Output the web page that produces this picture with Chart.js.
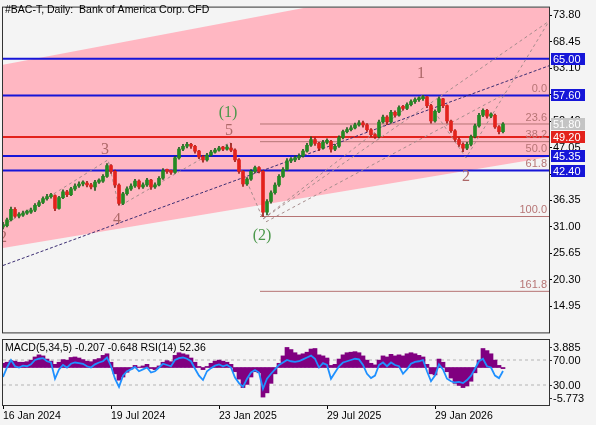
<!DOCTYPE html>
<html>
<head>
<meta charset="utf-8">
<script src="https://cdn.jsdelivr.net/npm/chart.js@4.4.1/dist/chart.umd.min.js"></script>
<style>
  body { margin: 0; background: #f4f4f4; }
  #wrap { position: relative; width: 596px; height: 425px; background: #f4f4f4; }
  canvas { position: absolute; left: 0; }
</style>
</head>
<body>
<div id="wrap">
  <canvas id="main" width="596" height="340" style="top:0"></canvas>
  <canvas id="sub" width="596" height="87" style="top:338px"></canvas>
</div>
<script>
// Price series, roughly one candle per week
const closes = [31.23, 32.41, 34.57, 33.19, 33.39, 33.78, 33.98, 34.37, 35.35, 35.94,
  36.72, 37.12, 37.31, 34.76, 36.92, 38.10, 37.51, 38.68, 39.27, 39.67,
  39.86, 39.47, 39.08, 40.06, 40.25, 41.23, 43.39, 42.22, 39.47, 35.74,
  37.70, 38.68, 39.27, 40.25, 39.08, 39.47, 40.45, 39.08, 39.47, 40.84,
  42.41, 42.22, 42.02, 44.96, 46.73, 47.32, 47.71, 47.32, 46.33, 45.16,
  44.57, 45.55, 46.14, 46.53, 46.92, 46.73, 46.92, 46.53, 44.57, 42.22,
  39.67, 40.65, 42.22, 43.00, 42.22, 33.98, 36.13, 37.90, 39.47, 41.23,
  42.61, 44.37, 44.57, 44.96, 45.35, 46.33, 47.51, 48.69, 47.90, 46.92,
  48.10, 48.30, 46.73, 47.32, 49.08, 50.26, 50.65, 51.04, 51.63, 52.02,
  51.63, 50.65, 49.67, 49.28, 52.22, 53.20, 52.22, 54.18, 53.59, 55.16,
  54.97, 55.75, 56.34, 56.73, 56.93, 57.32, 55.55, 52.42, 54.38, 56.93,
  55.55, 52.42, 50.45, 48.69, 47.71, 46.92, 47.71, 49.28, 51.44, 53.59,
  54.57, 53.40, 53.59, 51.24, 50.26, 51.80];
const highs = [31.9, 32.8, 35.0, 34.9, 33.9, 34.2, 34.4, 34.8, 35.7, 36.3,
  37.1, 37.6, 37.8, 37.5, 37.2, 38.5, 38.4, 39.0, 39.7, 40.1,
  40.3, 40.2, 39.8, 40.4, 40.7, 41.6, 43.8, 43.6, 42.5, 39.7,
  38.0, 39.1, 39.7, 40.6, 40.5, 39.9, 40.8, 40.6, 39.9, 41.2,
  42.8, 42.7, 42.5, 45.3, 47.1, 47.7, 48.1, 47.9, 47.5, 46.5,
  45.5, 45.9, 46.5, 46.9, 47.3, 47.3, 47.6, 47.9, 46.8, 44.8,
  42.4, 41.0, 42.6, 43.3, 43.2, 42.4, 36.5, 38.3, 39.9, 41.6,
  43.0, 44.8, 45.0, 45.4, 45.8, 46.7, 47.9, 49.2, 49.0, 48.1,
  48.5, 48.8, 48.5, 47.7, 49.4, 50.6, 51.1, 51.5, 52.0, 52.5,
  52.4, 51.9, 50.9, 49.9, 52.6, 53.6, 53.5, 54.6, 54.5, 55.5,
  55.6, 56.1, 56.7, 57.1, 57.3, 57.6, 57.4, 55.8, 54.7, 57.3,
  57.0, 55.7, 52.6, 50.7, 49.0, 48.0, 48.1, 49.6, 51.8, 54.0,
  54.9, 54.8, 54.1, 53.8, 51.5, 52.1];
const lows = [30.6, 31.0, 32.2, 32.9, 32.8, 33.1, 33.5, 33.7, 34.1, 35.1,
  35.7, 36.4, 36.8, 34.3, 34.6, 36.7, 37.1, 37.3, 38.4, 39.0,
  39.3, 39.1, 38.7, 38.4, 39.8, 40.0, 41.0, 41.8, 39.0, 35.4,
  35.5, 37.4, 38.4, 39.0, 38.7, 38.8, 39.2, 38.6, 38.8, 39.3,
  40.6, 41.8, 41.6, 41.8, 44.7, 46.4, 47.0, 46.9, 45.9, 44.8,
  44.1, 44.3, 45.3, 45.9, 46.3, 46.4, 46.5, 46.2, 44.2, 41.8,
  39.2, 39.4, 40.4, 41.9, 41.9, 33.1, 33.4, 35.8, 37.6, 39.2,
  41.0, 42.4, 44.0, 44.2, 44.6, 45.1, 46.1, 47.3, 47.5, 46.4,
  46.7, 47.8, 46.1, 46.4, 47.1, 48.8, 50.0, 50.4, 50.8, 51.4,
  51.2, 50.3, 49.3, 48.9, 49.0, 52.0, 51.7, 52.0, 53.2, 53.4,
  54.6, 54.7, 55.5, 56.0, 56.4, 56.6, 55.1, 52.0, 52.2, 54.1,
  55.1, 52.0, 50.1, 48.3, 47.3, 46.2, 46.6, 47.4, 49.0, 51.2,
  53.3, 53.0, 53.1, 50.9, 49.8, 50.0];
const firstOpen = 31.00;
const opens = [firstOpen].concat(closes.slice(0, -1));

// Indicator window: MACD(5,34,5) histogram and RSI(14)
const macd = [0.8, 1.0, 1.3, 1.2, 1.0, 1.0, 1.1, 1.4, 2.0, 2.4,
  2.2, 1.6, 1.2, 0.6, 1.0, 1.5, 1.4, 1.9, 2.0, 1.8,
  1.5, 1.2, 1.1, 1.5, 1.7, 2.3, 2.6, 1.0, -1.2, -2.4,
  -1.8, -0.9, -0.3, 0.4, 0.1, 0.3, 0.6, -0.2, -0.4, 0.3,
  1.0, 1.3, 1.1, 2.3, 2.8, 2.6, 2.4, 1.8, 1.0, 0.2,
  -0.4, 0.2, 0.8, 1.2, 1.4, 1.2, 1.0, 0.6, -0.8, -2.2,
  -3.8, -3.2, -1.8, -0.8, -1.0, -5.6, -4.8, -3.0, -1.2, 0.8,
  2.2, 3.8, 3.4, 2.8, 2.4, 2.6, 2.9, 3.5, 3.6, 2.4,
  2.2, 1.8, 0.4, 0.6, 1.6, 2.4, 2.8, 2.9, 3.0, 2.8,
  2.2, 1.4, 0.8, 0.5, 1.4, 2.2, 2.0, 2.5, 2.2, 2.4,
  2.2, 2.6, 2.8, 2.6, 2.3, 2.0, 0.6, -1.2, -1.4, 1.6,
  1.0, -0.8, -2.0, -3.0, -3.4, -3.8, -3.5, -2.6, -1.0, 1.4,
  3.6, 3.2, 2.6, 1.4, 0.4, -0.207];
const rsi = [43, 58, 70, 60, 58, 61, 60, 63, 70, 72,
  73, 68, 66, 40, 55, 62, 58, 64, 66, 65,
  64, 60, 58, 63, 66, 68, 74, 60, 40, 27,
  45, 52, 55, 59, 52, 55, 58, 50, 52, 58,
  64, 62, 60, 70, 73, 74, 72, 68, 56, 45,
  38, 52, 57, 61, 63, 60, 62, 58, 42, 33,
  27, 40, 50, 54, 50, 24, 40, 48, 55, 62,
  66, 70, 68, 67, 68, 71, 74, 77, 72, 58,
  65, 62, 40, 50, 60, 66, 68, 70, 72, 71,
  62, 48, 41, 45, 62, 66, 60, 66, 62, 60,
  48, 55, 64, 67, 68, 70, 52, 36, 45, 63,
  55, 40, 36, 34, 35, 33, 38, 45, 56, 68,
  72, 60, 58, 45, 41, 52.36];
const rsiLevels = [70, 30];
const macdMax = 3.885, macdMin = -5.773;

// Axes
const xMax = 136.5;
const priceTicks = [14.95, 20.30, 25.65, 31.00, 36.35, 41.70, 47.05, 52.40, 57.75, 63.10, 68.45, 73.80];
const dateTicks = [0, 27, 54, 81, 108];
const dateLabels = ['16 Jan 2024', '19 Jul 2024', '23 Jan 2025', '29 Jul 2025', '29 Jan 2026'];

// Drawn objects
const blueLevels = [65.00, 57.60, 45.35, 42.40];
const redLevels = [49.20];
const fibHigh = 57.60, fibLow = 33.10, fibFrom = 64.25;
const fibRatios = [0, 23.6, 38.2, 50, 61.8, 100, 161.8];
const channelUpper = [63.79, 84.68];
const channelLower = [26.72, 45.16];
const trendLine = [23.19, 63.60];
const wavePath = [[0, 31.23], [26.25, 44.57], [29, 35.15], [56.75, 48.10], [65, 32.60],
  [105, 57.71], [115.75, 44.96], [136.5, 72.62]];
const waveRays = [[[65, 32.60], [136.5, 72.62]], [[65.75, 32.02], [125.5, 57.91]]];
const waveLabels = [
  { t: '2', x: 0, y: 28.88, g: false }, { t: '3', x: 25.5, y: 46.53, g: false },
  { t: '4', x: 28.5, y: 32.41, g: false }, { t: '5', x: 56.5, y: 50.45, g: false },
  { t: '(1)', x: 56.25, y: 54.18, g: true }, { t: '(2)', x: 64.75, y: 29.27, g: true },
  { t: '1', x: 104.5, y: 62.03, g: false }, { t: '2', x: 115.75, y: 41.23, g: false }
];

Chart.defaults.font.family = "'Liberation Sans', Arial, sans-serif";
Chart.defaults.font.size = 11;
Chart.defaults.color = '#000';

const GREEN = '#248a24';
const RED = '#e3221c';
const BLUE = '#1616d8';
const FIB = '#b67474';
const idx = closes.map((_, i) => i);
const isUp = i => closes[i] >= opens[i];
const seg = (a, b) => [{ x: a[0], y: a[1] }, { x: b[0], y: b[1] }];
const hline = v => [{ x: 0, y: v }, { x: xMax, y: v }];

function lineSet(data, color, width, dash, order) {
  return { type: 'line', data: data, borderColor: color, borderWidth: width, borderDash: dash || [],
    pointRadius: 0, fill: false, order: order, tension: 0 };
}

const fibValue = r => fibHigh - (fibHigh - fibLow) * r / 100;

const datasets = [
  { type: 'line', data: seg([0, channelUpper[0]], [xMax, channelUpper[1]]), borderColor: 'rgba(0,0,0,0)',
    pointRadius: 0, fill: '+1', backgroundColor: '#ffb7c2', order: 30 },
  { type: 'line', data: seg([0, channelLower[0]], [xMax, channelLower[1]]), borderColor: 'rgba(0,0,0,0)',
    pointRadius: 0, fill: false, order: 29 }
];
fibRatios.forEach(r => datasets.push(lineSet([{ x: fibFrom, y: fibValue(r) }, { x: xMax, y: fibValue(r) }], FIB, 1, null, 20)));
blueLevels.forEach(v => datasets.push(lineSet(hline(v), BLUE, 2, null, 15)));
redLevels.forEach(v => datasets.push(lineSet(hline(v), RED, 2, null, 15)));
datasets.push(lineSet(seg([0, trendLine[0]], [xMax, trendLine[1]]), '#3b2d72', 1, [3, 2], 5));
datasets.push(lineSet(wavePath.map(p => ({ x: p[0], y: p[1] })), '#a58c8c', 1, [3, 3], 5));
waveRays.forEach(r => datasets.push(lineSet(seg(r[0], r[1]), '#a58c8c', 1, [3, 3], 5)));
// candles: wick then body
datasets.push({ type: 'bar', data: idx.map(i => ({ x: i, y: [lows[i], highs[i]] })), barThickness: 1,
  backgroundColor: idx.map(i => isUp(i) ? '#1d5a1d' : '#9a1a14'), grouped: false, order: 2 });
datasets.push({ type: 'bar', data: idx.map(i => ({ x: i, y: [opens[i], closes[i]] })), barThickness: 3,
  minBarLength: 2, backgroundColor: idx.map(i => isUp(i) ? GREEN : RED), grouped: false, order: 1 });

const mainOverlay = {
  id: 'mainOverlay',
  afterDraw(chart) {
    const { ctx, chartArea: a, scales: { x, y } } = chart;
    ctx.save();
    ctx.strokeStyle = '#333';
    ctx.lineWidth = 1;
    ctx.strokeRect(a.left - 0.5, a.top - 0.5, a.width + 1, a.height + 1);

    ctx.fillStyle = '#000';
    ctx.font = "10.5px 'Liberation Sans'";
    ctx.textBaseline = 'middle';
    ctx.textAlign = 'left';
    ctx.fillText('#BAC-T, Daily:  Bank of America Corp. CFD', 5, 10);

    // fib labels
    ctx.fillStyle = FIB;
    ctx.font = "11px 'Liberation Sans'";
    ctx.textAlign = 'right';
    ctx.textBaseline = 'bottom';
    fibRatios.forEach(r => ctx.fillText(r.toFixed(1), a.right - 2, y.getPixelForValue(fibValue(r)) - 1));

    // wave labels
    ctx.save();
    ctx.beginPath();
    ctx.rect(a.left, a.top, a.width, a.height);
    ctx.clip();
    ctx.font = "16px 'Liberation Serif'";
    ctx.textAlign = 'center';
    ctx.textBaseline = 'middle';
    waveLabels.forEach(w => {
      ctx.fillStyle = w.g ? '#4b984b' : '#ad6868';
      ctx.fillText(w.t, x.getPixelForValue(w.x), y.getPixelForValue(w.y));
    });
    ctx.restore();

    // price boxes on the axis
    const box = (v, bg) => {
      const py = Math.round(y.getPixelForValue(v));
      ctx.fillStyle = bg;
      ctx.fillRect(a.right + 2, py - 6, 34, 12);
      ctx.fillStyle = '#fff';
      ctx.font = "11px 'Liberation Sans'";
      ctx.textAlign = 'left';
      ctx.textBaseline = 'middle';
      ctx.fillText(v.toFixed(2), a.right + 4, py + 0.5);
    };
    box(closes[closes.length - 1], '#c4c4c4');
    blueLevels.forEach(v => box(v, BLUE));
    redLevels.forEach(v => box(v, RED));
    ctx.restore();
  }
};

new Chart(document.getElementById('main'), {
  type: 'bar',
  data: { datasets: datasets },
  options: {
    responsive: false,
    animation: false,
    devicePixelRatio: 1,
    layout: { padding: { left: 3, top: 3, right: 0, bottom: 2 } },
    plugins: { legend: { display: false }, tooltip: { enabled: false } },
    scales: {
      x: { type: 'linear', min: 0, max: xMax, offset: false, display: false },
      y: {
        position: 'right', min: 9.65, max: 75.37,
        afterFit: s => { s.width = 47; },
        afterBuildTicks: s => { s.ticks = priceTicks.map(v => ({ value: v })); },
        ticks: { callback: v => v.toFixed(2), padding: 1, color: '#000' },
        grid: { drawOnChartArea: false, tickLength: 3, color: '#000' },
        border: { color: '#333' }
      }
    }
  },
  plugins: [mainOverlay]
});

const subOverlay = {
  id: 'subOverlay',
  afterDraw(chart) {
    const { ctx, chartArea: a, scales } = chart;
    ctx.save();
    ctx.strokeStyle = '#333';
    ctx.lineWidth = 1;
    ctx.strokeRect(a.left - 0.5, a.top - 0.5, a.width + 1, a.height + 1);
    ctx.fillStyle = '#000';
    ctx.font = "10.5px 'Liberation Sans'";
    ctx.textAlign = 'left';
    ctx.textBaseline = 'middle';
    ctx.fillText('MACD(5,34,5) -0.207 -0.648 RSI(14) 52.36', 5, 10);
    ctx.font = "11px 'Liberation Sans'";
    const marks = [
      [scales.macd.getPixelForValue(macdMax), macdMax.toFixed(3)],
      [scales.rsi.getPixelForValue(rsiLevels[0]), rsiLevels[0].toFixed(2)],
      [scales.rsi.getPixelForValue(rsiLevels[1]), rsiLevels[1].toFixed(2)],
      [scales.macd.getPixelForValue(macdMin), macdMin.toFixed(3)]
    ];
    marks.forEach(m => {
      const py = Math.round(m[0]) + 0.5;
      ctx.beginPath();
      ctx.moveTo(a.right, py);
      ctx.lineTo(a.right + 3, py);
      ctx.stroke();
      ctx.fillText(m[1], a.right + 4, py);
    });
    ctx.restore();
  }
};

new Chart(document.getElementById('sub'), {
  type: 'bar',
  data: {
    datasets: [
      { type: 'bar', data: idx.map(i => ({ x: i, y: macd[i] })), yAxisID: 'macd', barThickness: 4,
        backgroundColor: '#800080', grouped: false, order: 3 },
      Object.assign(lineSet(hline(rsiLevels[0]), '#b4b4b4', 1, [3, 3], 4), { yAxisID: 'rsi' }),
      Object.assign(lineSet(hline(rsiLevels[1]), '#b4b4b4', 1, [3, 3], 4), { yAxisID: 'rsi' }),
      Object.assign(lineSet(idx.map(i => ({ x: i, y: rsi[i] })), '#1e90ff', 1.8, null, 1), { yAxisID: 'rsi' })
    ]
  },
  options: {
    responsive: false,
    animation: false,
    devicePixelRatio: 1,
    layout: { padding: { left: 3, top: 2, right: 47, bottom: 0 } },
    plugins: { legend: { display: false }, tooltip: { enabled: false } },
    scales: {
      x: {
        type: 'linear', min: 0, max: xMax, offset: false,
        afterFit: s => { s.height = 20; },
        afterBuildTicks: s => { s.ticks = dateTicks.map(v => ({ value: v })); },
        ticks: { callback: v => dateLabels[dateTicks.indexOf(v)], align: 'start', maxRotation: 0,
          autoSkip: false, padding: 1, color: '#000', font: { size: 10.5 } },
        grid: { drawOnChartArea: false, tickLength: 4, color: '#000', offset: false },
        border: { color: '#333' }
      },
      macd: { position: 'right', min: -7.1, max: 5.21, display: false },
      rsi: { position: 'right', min: -2, max: 102, display: false }
    }
  },
  plugins: [subOverlay]
});
</script>
</body>
</html>
